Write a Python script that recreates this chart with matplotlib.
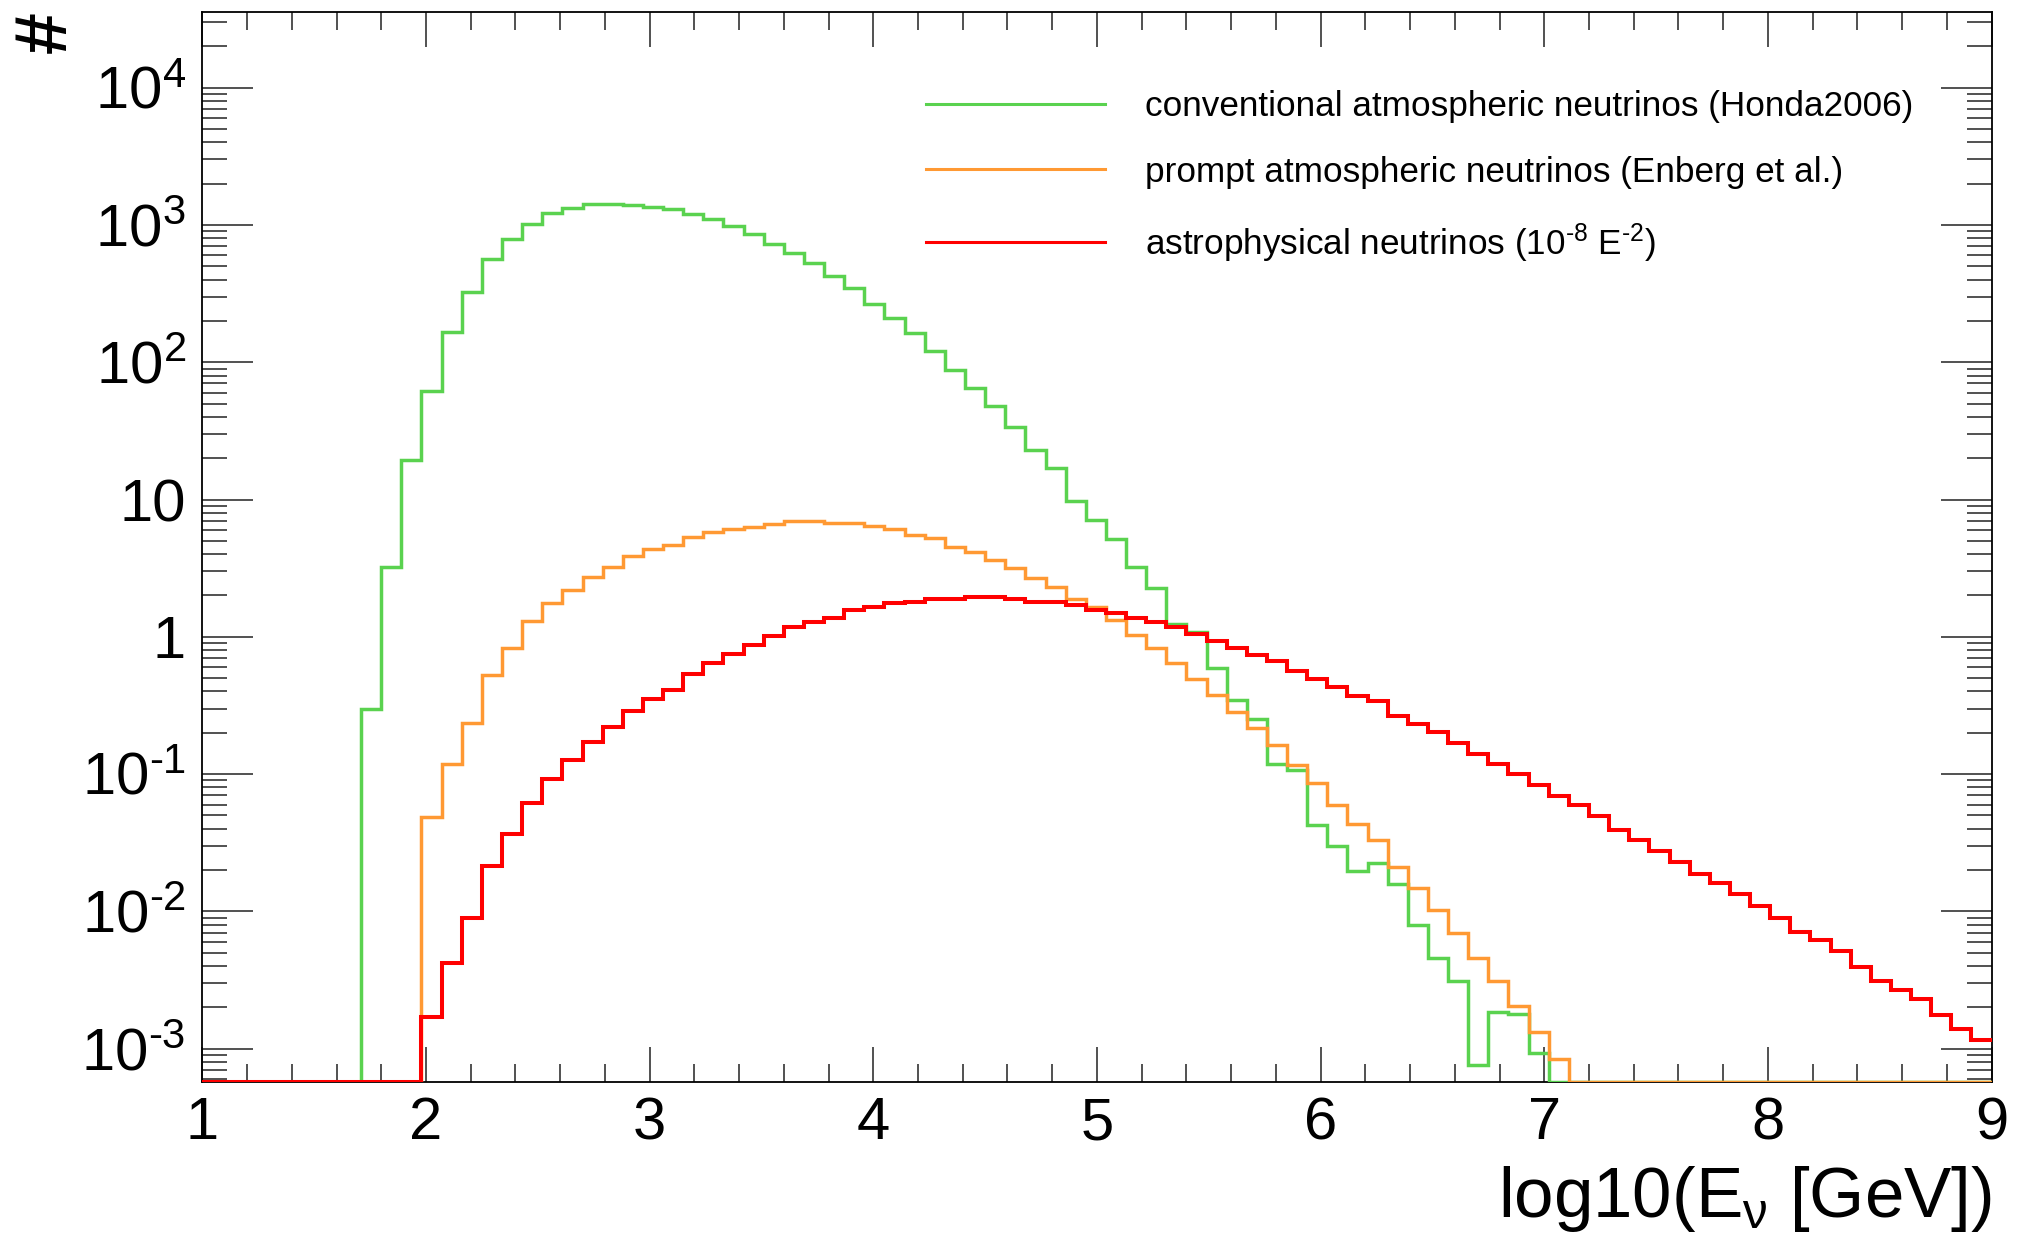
import numpy as np
import matplotlib
matplotlib.use('Agg')
import matplotlib.pyplot as plt
from matplotlib.lines import Line2D
from matplotlib.ticker import FixedLocator, FixedFormatter, LogLocator, MultipleLocator, NullFormatter

plt.rcParams['font.family'] = ['Liberation Sans', 'DejaVu Sans']
plt.rcParams['mathtext.fontset'] = 'custom'
plt.rcParams['mathtext.rm'] = 'Liberation Sans'
plt.rcParams['mathtext.it'] = 'Liberation Sans'
plt.rcParams['mathtext.bf'] = 'Liberation Sans:bold'

# histogram binning: 100 bins of 0.09 in log10(E/GeV), from 0 to 9
bin_width = 0.09
n_bins = 100

# conventional atmospheric (Honda2006), first non-empty bin = 19
conv_first = 19
conv_counts = [0.30, 3.25, 19.3, 62, 165, 325, 565, 790, 1020, 1230,
               1320, 1420, 1425, 1395, 1350, 1295, 1205, 1100, 985, 862,
               732, 628, 528, 422, 345, 266, 211, 163, 121, 88,
               65, 48, 33.7, 22.9, 16.9, 9.8, 7.15, 5.15, 3.2, 2.28,
               1.25, 1.09, 0.59, 0.346, 0.25, 0.119, 0.107, 0.0428, 0.0301, 0.0196,
               0.0227, 0.0159, 0.0080, 0.00459, 0.00311, 0.00076, 0.00186, 0.00180, 0.00093]

# prompt atmospheric (Enberg et al.), first non-empty bin = 22
prompt_first = 22
prompt_counts = [0.049, 0.119, 0.235, 0.524, 0.835, 1.30, 1.77, 2.21, 2.73, 3.24,
                 3.89, 4.35, 4.63, 5.33, 5.78, 6.08, 6.27, 6.59, 6.93, 7.0,
                 6.8, 6.75, 6.46, 6.08, 5.55, 5.22, 4.54, 4.18, 3.62, 3.18,
                 2.70, 2.31, 1.89, 1.66, 1.32, 1.03, 0.83, 0.64, 0.49, 0.378,
                 0.283, 0.216, 0.162, 0.116, 0.0865, 0.060, 0.0436, 0.0331, 0.0209, 0.0147,
                 0.0103, 0.00695, 0.00461, 0.00310, 0.00206, 0.00133, 0.00084]

# astrophysical E^-2, first non-empty bin = 22
astro_first = 22
astro_counts = [0.00169, 0.00421, 0.00891, 0.0213, 0.0368, 0.0618, 0.0917, 0.126, 0.172, 0.221,
                0.288, 0.353, 0.411, 0.540, 0.647, 0.753, 0.877, 1.01, 1.18, 1.29,
                1.38, 1.56, 1.66, 1.77, 1.80, 1.90, 1.88, 1.96, 1.94, 1.90,
                1.80, 1.78, 1.70, 1.58, 1.50, 1.37, 1.28, 1.18, 1.05, 0.937,
                0.825, 0.742, 0.662, 0.566, 0.496, 0.428, 0.372, 0.342, 0.267, 0.233,
                0.202, 0.169, 0.140, 0.119, 0.0995, 0.0838, 0.0691, 0.0593, 0.0492, 0.0394,
                0.0330, 0.0276, 0.0230, 0.0186, 0.0162, 0.0133, 0.0109, 0.0090, 0.00712, 0.00620,
                0.00519, 0.00393, 0.00314, 0.00266, 0.00230, 0.00175, 0.00139, 0.00116]

labels = ['conventional atmospheric neutrinos (Honda2006)',
          'prompt atmospheric neutrinos (Enberg et al.)',
          r'astrophysical neutrinos (10$^{\text{-8}}$ E$^{\text{-2}}$)']
colors = ['#5ad24f', '#ff9933', '#ff0000']
widths = [2.5, 2.5, 2.9]

y_lo, y_hi = 5.7e-4, 3.57e4
ytick_vals = [1e-3, 1e-2, 1e-1, 1, 10, 1e2, 1e3, 1e4]
ytick_text = [r'$10^{\text{-3}}$', r'$10^{\text{-2}}$', r'$10^{\text{-1}}$', '1', '10',
              '$10^{2}$', '$10^{3}$', '$10^{4}$']


def fill(first, counts):
    h = np.zeros(n_bins)
    h[first:first + len(counts)] = counts
    return h


edges = np.arange(n_bins + 1) * bin_width
hists = [fill(conv_first, conv_counts), fill(prompt_first, prompt_counts), fill(astro_first, astro_counts)]

fig = plt.figure(figsize=(20.17, 12.47), dpi=100)
ax = fig.add_axes([0.1003, 0.1321, 0.8871, 0.8585])
ax.set_yscale('log')

for h, c, lw in zip(hists, colors, widths):
    # empty bins sit on the bottom of the frame, like ROOT draws them
    vals = np.where(h > 0, h, y_lo)
    ax.stairs(vals, edges, baseline=None, color=c, lw=lw, zorder=3)

ax.set_xlim(1, 9)
ax.set_ylim(y_lo, y_hi)

ax.xaxis.set_major_locator(MultipleLocator(1))
ax.xaxis.set_minor_locator(MultipleLocator(0.2))
ax.yaxis.set_major_locator(FixedLocator(ytick_vals))
ax.yaxis.set_major_formatter(FixedFormatter(ytick_text))
ax.yaxis.set_minor_locator(LogLocator(base=10, subs=np.arange(2, 10), numticks=30))
ax.yaxis.set_minor_formatter(NullFormatter())

ax.tick_params(axis='both', which='both', direction='in', top=True, right=True,
               color='#222222', width=1.1, labelsize=43)
ax.tick_params(axis='x', which='major', length=25, pad=10)
ax.tick_params(axis='x', which='minor', length=13)
ax.tick_params(axis='y', which='major', length=37, pad=12)
ax.tick_params(axis='y', which='minor', length=18)
for sp in ax.spines.values():
    sp.set_linewidth(1.3)

ax.set_xlabel(r'log10(E$_{\nu}$ [GeV])', fontsize=51, loc='right', va='baseline')
ax.xaxis.set_label_coords(1.0, -0.1255)
ax.set_ylabel('#', fontsize=54, fontweight='bold', loc='top')
ax.yaxis.set_label_coords(-0.068, 1.0)

handles = [Line2D([], [], color=c, lw=2.2) for c in colors]
ax.legend(handles, labels, loc='upper left', bbox_to_anchor=(0.4045, 0.927),
          frameon=False, fontsize=25.3, handlelength=5.1, handletextpad=1.12,
          labelspacing=0.93, borderpad=0, borderaxespad=0)

fig.savefig('out.png', dpi=100)
